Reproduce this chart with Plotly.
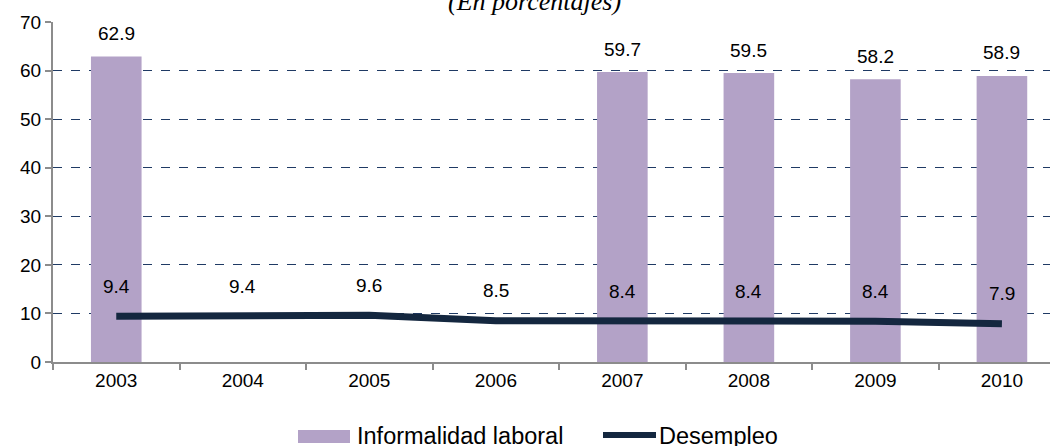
import plotly.graph_objects as go

years = ["2003", "2004", "2005", "2006", "2007", "2008", "2009", "2010"]
informalidad = [62.9, None, None, None, 59.7, 59.5, 58.2, 58.9]
desempleo = [9.4, 9.4, 9.6, 8.5, 8.4, 8.4, 8.4, 7.9]
y_ticks = [0, 10, 20, 30, 40, 50, 60, 70]

BAR = "#B3A2C7"
LINE = "#14273F"
FONT = "Liberation Sans, Arial, sans-serif"

# plot area geometry (pixels) used for paper-coordinate conversion
L, R, T, B = 53, 1050, 22, 362
def px(xp):
    return (xp - L) / (R - L)
def py(yp):
    return (B - yp) / (B - T)

idx = list(range(len(years)))

fig = go.Figure()
fig.add_trace(go.Bar(
    x=idx, y=informalidad, name="Informalidad laboral",
    marker=dict(color=BAR, line=dict(width=0)), width=0.4,
))
fig.add_trace(go.Scatter(
    x=idx, y=desempleo, name="Desempleo", mode="lines",
    line=dict(color=LINE, width=7),
))

annotations = []
for i, v in zip(idx, informalidad):
    if v is not None:
        annotations.append(dict(x=i, y=v, xref="x", yref="y", text=f"{v:.1f}",
                                showarrow=False, yanchor="middle", yshift=23,
                                font=dict(size=19, color="#000000", family=FONT)))
for i, v in zip(idx, desempleo):
    annotations.append(dict(x=i, y=v, xref="x", yref="y", text=f"{v:.1f}",
                            showarrow=False, yanchor="middle", yshift=30,
                            font=dict(size=19, color="#000000", family=FONT)))
annotations.append(dict(x=px(534), y=py(18), xref="paper", yref="paper",
                        text="<i>(En porcentajes)</i>", showarrow=False,
                        xanchor="center", yanchor="bottom",
                        font=dict(size=26, color="#000000",
                                  family="Liberation Serif, Times New Roman, serif")))

# custom legend
legend_names = ["Informalidad laboral", "Desempleo"]
annotations.append(dict(x=px(355), y=py(436), xref="paper", yref="paper",
                        text=legend_names[0], showarrow=False,
                        xanchor="left", yanchor="middle",
                        font=dict(size=23.5, color="#000000", family=FONT)))
annotations.append(dict(x=px(657), y=py(436), xref="paper", yref="paper",
                        text=legend_names[1], showarrow=False,
                        xanchor="left", yanchor="middle",
                        font=dict(size=23.5, color="#000000", family=FONT)))
shapes = [
    dict(type="rect", xref="paper", yref="paper",
         x0=px(298), x1=px(350), y0=py(443), y1=py(430),
         fillcolor=BAR, line=dict(width=0)),
    dict(type="line", xref="paper", yref="paper",
         x0=px(603), x1=px(656), y0=py(435), y1=py(435),
         line=dict(color=LINE, width=6)),
]

fig.update_layout(
    width=1050, height=446,
    margin=dict(l=L, r=0, t=T, b=446 - B, autoexpand=False),
    paper_bgcolor="white", plot_bgcolor="white",
    font=dict(family=FONT, size=19, color="#000000"),
    annotations=annotations,
    shapes=shapes,
    showlegend=False,
)
fig.update_xaxes(
    tickmode="array", tickvals=idx, ticktext=years,
    range=[-0.5, 7.38],
    showline=True, linecolor="#8C8C8C", linewidth=2,
    ticks="", showgrid=False, zeroline=False,
    tickfont=dict(size=19, family=FONT),
    minor=dict(tickmode="array", tickvals=[i + 0.5 for i in idx] + [-0.5],
               ticks="outside", ticklen=6, tickcolor="#8C8C8C", tickwidth=2,
               showgrid=False),
)
fig.update_yaxes(
    range=[0, 70], tickvals=y_ticks,
    showline=True, linecolor="#8C8C8C", linewidth=2,
    ticks="outside", ticklen=6, tickcolor="#8C8C8C", tickwidth=2,
    showgrid=True, gridcolor="#1F3A64", gridwidth=1, griddash="dash",
    zeroline=False,
    tickfont=dict(size=19, family=FONT),
)

fig.write_html(
    "out.html",
    config={"displayModeBar": False},
    post_script="document.body.style.margin='0';document.body.style.padding='0';document.body.style.overflow='hidden';",
)
